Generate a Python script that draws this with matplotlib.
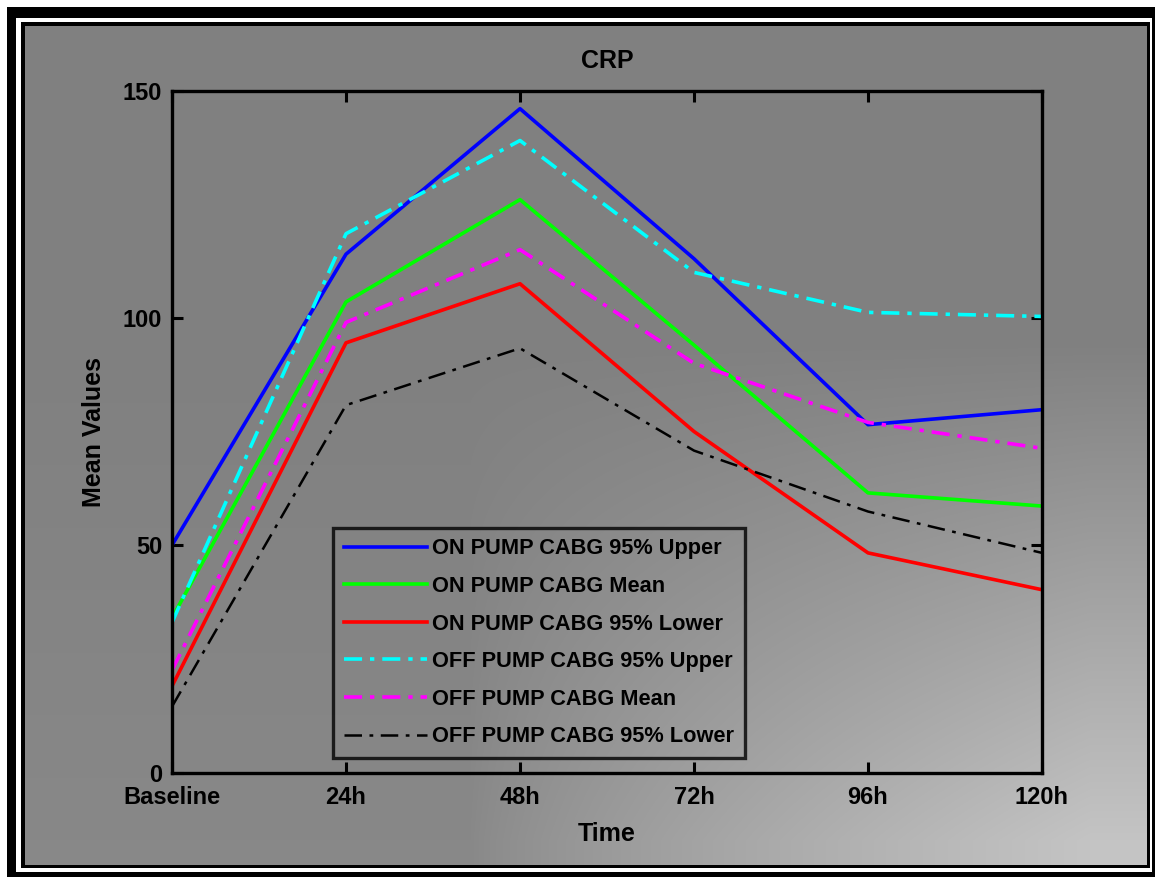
import numpy as np
import matplotlib
matplotlib.use("Agg")
import matplotlib.pyplot as plt

# ---- data ----
categories = ["Baseline", "24h", "48h", "72h", "96h", "120h"]
on_upper = [50, 114, 146, 113, 76.5, 79.8]
on_mean = [34, 103.5, 126, 94, 61.5, 58.6]
on_lower = [19, 94.5, 107.5, 75, 48.3, 40.2]
off_upper = [33, 118.5, 139, 110, 101.2, 100.3]
off_mean = [22.5, 99, 115, 90, 77, 71.3]
off_lower = [14.5, 80.8, 93.3, 70.8, 57.4, 48.3]
labels = [
    "ON PUMP CABG 95% Upper",
    "ON PUMP CABG Mean",
    "ON PUMP CABG 95% Lower",
    "OFF PUMP CABG 95% Upper",
    "OFF PUMP CABG Mean",
    "OFF PUMP CABG 95% Lower",
]
yticks = [0, 50, 100, 150]

plt.rcParams['font.family'] = ['Liberation Sans', 'DejaVu Sans']
plt.rcParams['font.weight'] = 'bold'

W, H = 1155, 877
fig = plt.figure(figsize=(W / 100, H / 100), dpi=100)
fig.patch.set_facecolor('white')

# ---- background frame + gradient ----
img = np.ones((H, W, 3))
img[7:, 7:, :] = 0.0
img[18:872, 16:1152, :] = 1.0
img[22:868, 21:1150, :] = 0.0
yy, xx = np.mgrid[0:H, 0:W]
sx = np.clip((xx - 470) / 620.0, 0, 1)
sy = np.clip((yy - 340) / 500.0, 0, 1)
val = (128 + 68 * (sx ** 0.8) * (sy ** 1.0) + 8 * sy * (1 - sx)) / 255.0
gray = np.dstack([val, val, val])
img[26:865, 25:1147, :] = gray[26:865, 25:1147, :]
bg = fig.add_axes([0, 0, 1, 1])
bg.imshow(img, aspect='auto', interpolation='nearest', extent=(0, W, H, 0))
bg.set_axis_off()
bg.set_zorder(0)

# ---- main axes ----
ax = fig.add_axes([172 / W, 1 - 772.5 / H, 870 / W, 682 / H])
ax.set_zorder(1)
ax.patch.set_alpha(0)
x = np.arange(len(categories))

dd = (0, (5, 2.2, 1.2, 2.2))
lw = 2.6
ax.plot(x, on_upper, color='#0000ff', lw=lw, label=labels[0])
ax.plot(x, on_mean, color='#00ff00', lw=lw, label=labels[1])
ax.plot(x, on_lower, color='#ff0000', lw=lw, label=labels[2])
ax.plot(x, off_upper, color='#00ffff', lw=lw, ls=dd, label=labels[3])
ax.plot(x, off_mean, color='#ff00ff', lw=lw, ls=dd, label=labels[4])
ax.plot(x, off_lower, color='#000000', lw=1.8, ls=(0, (7, 3, 1.5, 3)), label=labels[5])

ax.set_xlim(0, len(categories) - 1)
ax.set_ylim(0, 150)
ax.set_xticks(x)
ax.set_xticklabels(categories)
ax.set_yticks(yticks)
ax.tick_params(direction='in', length=8, width=2.2, top=True, right=True,
               labelsize=17, colors='black')
ax.tick_params(axis='x', pad=10)
ax.tick_params(axis='y', pad=7)
for s in ax.spines.values():
    s.set_linewidth(2.4)
    s.set_color('black')

ax.set_title("CRP", fontsize=18, fontweight='bold', pad=16)
ax.set_xlabel("Time", fontsize=18, fontweight='bold', labelpad=9)
ax.set_ylabel("Mean Values", fontsize=18, fontweight='bold', labelpad=12)

leg = ax.legend(loc='lower left', bbox_to_anchor=(0.185, 0.021), fontsize=15.7,
                frameon=True, fancybox=False, edgecolor='black', facecolor='none',
                handlelength=3.8, handletextpad=0.25, labelspacing=0.76,
                borderpad=0.5, borderaxespad=0)
leg.get_frame().set_linewidth(2.4)
for t in leg.get_texts():
    t.set_fontweight('bold')

fig.savefig("out.png", dpi=100)
